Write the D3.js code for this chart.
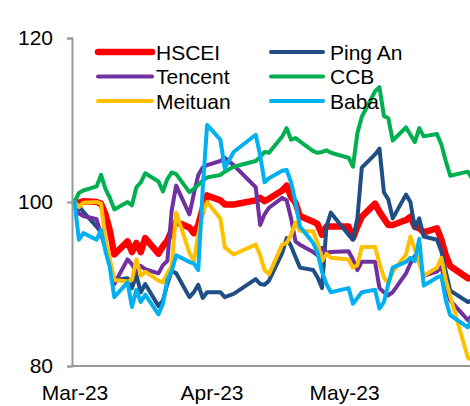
<!DOCTYPE html>
<html><head><meta charset="utf-8">
<script src="https://cdn.jsdelivr.net/npm/d3@7"></script>
<style>
html,body{margin:0;padding:0;background:#fff;}
svg{display:block;font-family:"Liberation Sans",Arial,sans-serif;}
</style></head>
<body><svg id="chart" width="470" height="406"></svg>
<script>
const dates = ["2023-03-01","2023-03-02","2023-03-03","2023-03-06","2023-03-07","2023-03-08","2023-03-09","2023-03-10","2023-03-13","2023-03-14","2023-03-15","2023-03-16","2023-03-17","2023-03-20","2023-03-21","2023-03-22","2023-03-23","2023-03-24","2023-03-27","2023-03-28","2023-03-29","2023-03-30","2023-03-31",
"2023-04-03","2023-04-04","2023-04-06","2023-04-11","2023-04-12","2023-04-13","2023-04-14","2023-04-17","2023-04-18","2023-04-19","2023-04-20","2023-04-21","2023-04-24","2023-04-25","2023-04-26","2023-04-27","2023-04-28",
"2023-05-02","2023-05-03","2023-05-04","2023-05-05","2023-05-08","2023-05-09","2023-05-10","2023-05-11","2023-05-12","2023-05-15","2023-05-16","2023-05-17","2023-05-18","2023-05-19","2023-05-22","2023-05-23","2023-05-24","2023-05-25","2023-05-29","2023-05-30","2023-05-31"];

const hscei = [100,99.9,100.1,100.0,99.8,98.5,96.5,93.6,95.2,93.9,95.0,93.9,95.6,93.7,94.6,95.3,96.5,97.6,96.9,96.2,97.2,99.2,100.8,
100.2,99.7,99.7,100.2,100.5,100.1,100.4,101.4,102.0,100.6,99.9,98.3,97.6,97.3,96.0,97.0,97.0,
97.0,95.6,97.0,98.2,99.8,98.8,98.0,97.2,97.2,97.8,98.2,97.0,96.8,96.3,96.8,95.4,93.5,92.2,90.7,90.7,90.5];

const pingAn = [100,99.5,98.8,97.0,96.3,94.5,92.5,90.5,90.7,89.5,91.1,89.0,90.0,87.3,88.0,90.0,91.6,91.3,88.4,89.0,89.9,88.3,89.0,
89.0,88.4,88.8,90.6,90.0,89.9,90.4,93.8,95.6,94.6,93.3,92.0,91.7,90.8,89.5,97.0,98.7,
96.0,95.4,98.0,104.2,105.8,106.5,101.2,100.3,98.0,100.9,100.0,96.8,98.0,95.8,95.4,94.0,91.5,89.2,87.8,88.0,87.9];

const tencent = [100,98.6,98.3,97.9,96.0,94.5,92.5,90.0,93.0,92.4,91.4,92.2,91.8,91.3,92.3,92.8,99.0,102.0,98.5,101.0,103.3,104.2,104.5,
105.0,105.4,104.5,101.8,97.2,98.5,99.3,100.5,100.2,98.0,95.2,94.8,93.9,93.5,94.4,93.8,93.9,
94.0,93.0,91.7,92.7,92.7,89.5,89.0,88.6,89.0,91.3,92.5,93.4,92.8,91.0,91.5,92.1,89.8,88.0,85.6,86.2,86.6];

const ccb = [100.0,101.1,101.4,101.9,103.3,101.6,100.5,99.1,100.0,99.6,101.8,102.4,103.5,102.5,101.3,102.8,103.6,103.4,101.2,101.6,102.1,102.6,103.0,
103.3,103.7,104.3,105.0,105.5,106.1,106.0,108.0,109.0,107.6,107.8,107.4,106.2,106.0,106.1,106.3,106.0,
105.4,104.3,108.4,110.4,113.5,114.0,110.5,110.2,107.5,109.1,108.2,107.3,109.0,108.0,108.3,107.0,105.0,103.2,103.7,102.8,102.5];

const meituan = [100,99.4,99.9,100.0,99.8,95.5,93.0,90.5,90.3,90.5,93.0,91.0,91.5,90.4,90.2,91.3,92.2,98.7,93.8,92.8,96.0,98.8,100.0,
98.0,94.5,93.6,94.8,93.5,91.7,91.2,94.8,95.0,96.0,97.5,96.5,96.4,95.0,92.8,93.7,93.2,
93.0,92.0,92.3,94.5,94.5,92.5,90.8,90.1,91.5,93.6,95.8,94.2,92.5,91.0,92.0,93.2,90.5,88.5,81.0,80.7,81.6];

const baba = [100,95.4,96.2,95.4,96.6,94.0,92.0,88.4,90.2,87.2,89.3,87.8,88.7,86.3,87.6,90.5,91.6,93.5,92.7,92.5,91.7,101.5,109.4,
107.6,104.1,106.1,108.2,105.7,102.4,102.9,103.8,103.9,102.4,100.0,97.0,95.0,93.8,91.5,90.0,89.0,
89.5,87.6,88.3,89.0,89.3,87.0,87.8,90.0,92.0,92.7,93.2,92.8,95.5,89.8,90.8,91.0,88.0,86.2,84.7,85.9,86.0];

const seriesNames = ["HSCEI","Ping An","Tencent","CCB","Meituan","Baba"];
const seriesColors = ["#FF0000","#1F4E84","#7030A0","#00B050","#FFC000","#00B0F0"];
const seriesValues = [hscei, pingAn, tencent, ccb, meituan, baba];
const yTicks = [80,100,120];
const xTickDates = ["2023-03-01","2023-04-01","2023-05-01"];

const svg = d3.select("#chart");
const parse = d3.utcParse("%Y-%m-%d");
const dayPx = 4.42;
const x0 = 74.5;
const xStart = parse("2023-03-01");
const xEnd = parse("2023-06-01");
const nDays = (xEnd - xStart) / 86400000;
const x = d3.scaleUtc().domain([xStart, xEnd]).range([x0, x0 + nDays * dayPx]);
const y = d3.scaleLinear().domain([80,120]).range([366,38]);

const axisColor = "#999999";

// lines
const line = d3.line().x(d => x(d.date)).y(d => y(d.v)).curve(d3.curveLinear);
seriesValues.forEach((vals, i) => {
  const pts = dates.map((d, j) => ({date: parse(d), v: vals[j]}));
  svg.append("path").datum(pts)
    .attr("d", line)
    .attr("fill","none")
    .attr("stroke", seriesColors[i])
    .attr("stroke-width", i === 0 ? 6.5 : 4)
    .attr("stroke-linejoin","round")
    .attr("stroke-linecap","round");
});

// y axis
const yAxis = d3.axisLeft(y).tickValues(yTicks).tickSize(5).tickPadding(14).tickSizeOuter(5);
const gy = svg.append("g").attr("transform","translate(72,0)").call(yAxis);
gy.select(".domain").attr("stroke", axisColor).attr("stroke-width",2);
gy.selectAll(".tick line").attr("stroke", axisColor).attr("stroke-width",2);
gy.selectAll(".tick text").attr("font-size",21).attr("fill","#000").attr("font-family",'"Liberation Sans",Arial,sans-serif');

// x axis
const xAxis = d3.axisBottom(x).tickValues(xTickDates.map(parse)).tickFormat(d3.utcFormat("%b-%y")).tickSize(0).tickSizeOuter(0);
const gx = svg.append("g").attr("transform","translate(0,366)").call(xAxis);
gx.select(".domain").attr("stroke", axisColor).attr("stroke-width",2).attr("d","M72,0H480");
gx.selectAll(".tick text").attr("font-size",21).attr("fill","#000").attr("y",34).attr("dy","0")
  .attr("font-family",'"Liberation Sans",Arial,sans-serif');

// legend
const legendPos = [
  {lx1:98, lx2:152, tx:156, ly:52},
  {lx1:271, lx2:323, tx:330, ly:52},
  {lx1:98, lx2:152, tx:156, ly:76.5},
  {lx1:271, lx2:323, tx:330, ly:76.5},
  {lx1:98, lx2:152, tx:156, ly:101},
  {lx1:271, lx2:323, tx:330, ly:101}
];
const lg = svg.append("g");
seriesNames.forEach((name, i) => {
  const p = legendPos[i];
  lg.append("line").attr("x1",p.lx1).attr("x2",p.lx2).attr("y1",p.ly).attr("y2",p.ly)
    .attr("stroke",seriesColors[i]).attr("stroke-width", i===0?6.5:4).attr("stroke-linecap","round");
  lg.append("text").attr("x",p.tx).attr("y",p.ly+7.5).attr("font-size",21).attr("fill","#000").text(name);
});
</script></body></html>
